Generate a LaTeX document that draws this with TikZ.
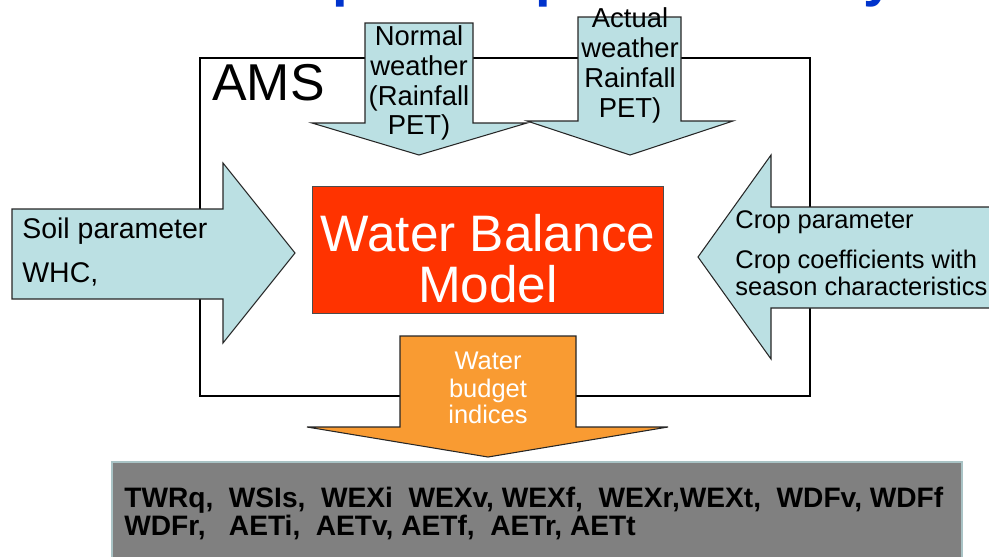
\documentclass[tikz,border=0pt]{standalone}
\usepackage{fontspec}
\setmainfont{Liberation Sans}
\definecolor{inblue}{HTML}{BBE0E3}
\definecolor{modelred}{HTML}{FF3300}
\definecolor{outorange}{HTML}{F99B32}
\definecolor{titleblue}{HTML}{0033CC}
\definecolor{boxgray}{HTML}{808080}
\begin{document}
\begin{tikzpicture}[
        x=0.02cm, y=-0.02cm,
        every node/.style={inner sep=0pt},
        inarrow/.style={fill=inblue, draw=black!85, line width=0.6pt},
        outarrow/.style={fill=outorange, draw=black!85, line width=0.6pt},
        arrowtext/.style={anchor=base, font=\fontsize{15.6}{18}\selectfont},
        croptext/.style={anchor=base west, font=\fontsize{14.5}{17}\selectfont},
        outtext/.style={anchor=base, text=white, font=\fontsize{14.5}{17}\selectfont},
        indextext/.style={anchor=base west, font=\bfseries\fontsize{16}{18}\selectfont},
        ]
        \useasboundingbox (0,0) rectangle (989,556);

        % title, cut off at the top edge
        \node[anchor=base west, text=titleblue, font=\bfseries\fontsize{32}{32}\selectfont]
            (title) at (104,-5) {Model Input-Output Summary};

        % AMS frame
        \draw[line width=1.2pt] (200,58) rectangle (810,396);
        \node[anchor=base west, font=\fontsize{29.5}{30}\selectfont] (ams) at (212,100) {AMS};

        % inputs
        \draw[inarrow] (12,209) -- (223,209) -- (223,163) -- (295,253)
            -- (223,343) -- (223,299) -- (12,299) -- cycle;
        \node[arrowtext, anchor=base west, font=\fontsize{16.2}{18}\selectfont] (soil) at (22,238) {Soil parameter};
        \node[arrowtext, anchor=base west, font=\fontsize{16.2}{18}\selectfont] (whc) at (22,282) {WHC,};

        \draw[inarrow] (992,207) -- (771,207) -- (771,155) -- (698,257)
            -- (771,359) -- (771,308) -- (992,308) -- cycle;
        \node[croptext] (crop1) at (735,228) {Crop parameter};
        \node[croptext] (crop2) at (735,268) {Crop coefficients with};
        \node[croptext] (crop3) at (735,295) {season characteristics};

        \draw[inarrow] (365,23) -- (473,23) -- (473,123) -- (527,123)
            -- (419,155) -- (312,123) -- (365,123) -- cycle;
        \foreach \lbl[count=\i] in {Normal, weather, {(Rainfall}, PET)}
        {
            \node[arrowtext] (normal\i) at (419,16+29.7*\i) {\lbl};
        }

        \draw[inarrow] (578,17) -- (681,17) -- (681,121) -- (733,121)
            -- (630,155) -- (527,121) -- (578,121) -- cycle;
        \foreach \lbl[count=\i] in {Actual, weather, Rainfall, PET)}
        {
            \node[arrowtext] (actual\i) at (630,-3+30*\i) {\lbl};
        }

        % model
        \draw[fill=modelred, draw=black!70, line width=0.5pt] (312,186) rectangle (663,313);
        \node[anchor=base, text=white, font=\fontsize{29.2}{30}\selectfont] (model1) at (488,251) {Water Balance};
        \node[anchor=base, text=white, font=\fontsize{29.2}{30}\selectfont] (model2) at (488,302) {Model};

        % output
        \draw[outarrow] (400,336) -- (576,336) -- (576,427) -- (668,427)
            -- (488,457) -- (307,427) -- (400,427) -- cycle;
        \node[outtext] (out1) at (488,369) {Water};
        \node[outtext] (out2) at (488,397) {budget};
        \node[outtext] (out3) at (488,423) {indices};

        % indices
        \draw[fill=boxgray, draw=inblue!70!gray, line width=0.6pt] (112,462) rectangle (962,560);
        \node[indextext] (idx1) at (124,507)
            {TWRq,\ \ WSIs,\ \ WEXi\ \ WEXv, WEXf,\ \ WEXr,WEXt,\ \ WDFv, WDFf};
        \node[indextext] (idx2) at (124,535)
            {WDFr,\ \ \ AETi,\ \ AETv, AETf,\ \ AETr, AETt};

    \end{tikzpicture}
\end{document}
